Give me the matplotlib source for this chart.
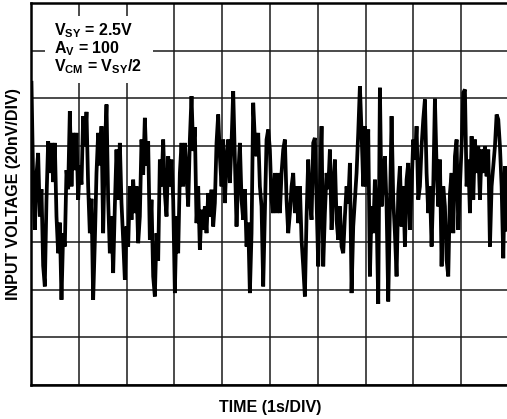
import numpy as np
import matplotlib
matplotlib.use("Agg")
import matplotlib.pyplot as plt
from matplotlib.patches import Rectangle

plt.rcParams['font.family'] = ['Liberation Sans', 'DejaVu Sans']
plt.rcParams['mathtext.fontset'] = 'custom'
plt.rcParams['mathtext.rm'] = 'Liberation Sans:bold'
plt.rcParams['mathtext.bf'] = 'Liberation Sans:bold'
plt.rcParams['mathtext.it'] = 'Liberation Sans:bold'

noise_nv = [
    46.6, 6.0, -15.0, 8.0, 17.2, -9.4, 2.0, -30.0, -38.7, -2.4,
    22.1, 8.8, 21.4, 5.0, 21.4, -9.4, -24.8, -12.0, -44.3, -16.4,
    -22.0, 10.0, 2.0, 34.7, 3.2, 25.6, 10.0, 25.6, -2.4, 12.0,
    4.0, 32.6, 20.0, 34.4, 3.2, -16.4, -2.0, -44.3, -20.0, 8.8,
    25.6, 12.0, 28.4, -16.4, 18.6, 37.5, -2.4, -24.8, -9.4, -33.1,
    -5.2, 18.6, -2.4, 21.4, -3.8, -19.2, -35.9, -13.6, -22.0, 3.2,
    -10.8, 6.0, -8.0, 3.2, -20.6, -9.4, 22.8, 8.0, 31.9, 12.0,
    22.0, -19.2, -2.4, -34.5, -42.9, -16.4, -28.0, 14.4, 3.2, 22.8,
    0.4, -9.4, 15.8, 3.2, 14.4, -2.4, -41.5, -9.4, -24.8, 8.8,
    21.4, 3.2, 21.4, 8.8, -5.2, 22.8, 41.0, 18.0, 28.0, -12.2,
    3.2, -23.4, -6.6, -15.0, -5.2, -16.4, 0.4, -9.4, 1.8, -13.6,
    -3.8, 21.4, 33.3, 15.8, 3.2, 22.8, -3.8, 14.4, 22.8, 4.6,
    21.4, 43.1, 14.4, -13.6, 7.4, 21.4, -2.4, -10.8, 2.0, -22.0,
    -12.0, -41.5, -16.4, 38.2, 22.8, 15.8, 25.6, 3.2, -5.2, -38.7,
    -8.0, 22.8, 27.0, 18.6, -2.4, -8.0, 8.8, -8.0, 8.8, -8.0,
    8.8, 18.6, 22.8, -2.4, -16.4, -8.0, 3.2, 8.8, -8.0, 3.2,
    -12.2, 3.2, -19.2, -30.3, -42.9, -9.4, 14.4, -2.4, -10.8, 21.4,
    23.5, -2.4, -30.3, 3.2, 28.4, -30.3, -8.0, 8.8, 2.0, 18.6,
    -15.0, 3.2, 14.4, -10.8, -19.2, -5.2, -22.0, -24.8, -9.4, 3.2,
    -4.0, 13.0, -41.5, -13.6, -2.4, 8.8, 25.6, 45.2, 25.6, 3.2,
    28.4, 3.2, 27.0, -34.5, -5.2, -16.4, 6.0, -8.0, -46.0, 44.5,
    -5.2, 6.0, 15.8, -5.2, -45.0, -5.2, 32.6, -2.4, -16.4, -34.5,
    0.4, 11.6, -13.6, 3.2, -22.0, 6.0, 13.0, -15.0, 3.2, 22.8,
    14.4, 28.4, -2.4, 3.2, 20.0, 31.2, 39.6, 8.8, -8.0, 3.2,
    -22.0, 3.2, 39.9, 11.6, -5.2, 14.4, -30.3, 3.2, -5.2, -27.6,
    -34.5, 0.4, 8.8, -16.4, 15.8, 22.8, -15.0, 3.2, 20.0, 42.4,
    43.8, 3.2, 14.4, -8.0, 24.2, -2.4, 22.8, 8.8, 20.0, -2.4,
    18.6, 8.8, 20.0, 7.4, 18.6, -22.0, 3.2, 11.6, 20.0, 33.3,
    31.2, 20.0, 3.2, -26.9, 11.6, -15.0,
]
record_start_s = 0.01
record_end_s = 9.95

x_ticks = list(range(0, 11))          # 1 s/div
y_ticks = list(range(-80, 81, 20))    # 20 nV/div

annotation_lines = [r'$\mathregular{V_{SY}}$ = 2.5V',
                    r'$\mathregular{A_{V}}$ = 100',
                    r'$\mathregular{V_{CM}}$ = $\mathregular{V_{SY}}$/2']

time_s = np.linspace(record_start_s, record_end_s, len(noise_nv))

fig = plt.figure(figsize=(5.07, 4.19), dpi=100)
ax = fig.add_axes([31 / 507, 34 / 419, 478 / 507, 382 / 419])

ax.set_xlim(0, 10)
ax.set_ylim(-80, 80)
ax.set_xticks(x_ticks)
ax.set_yticks(y_ticks)
ax.tick_params(length=0, labelbottom=False, labelleft=False)
ax.grid(True, color='#1a1a1a', linewidth=1.1, zorder=1)
ax.set_axisbelow(True)
for s in ax.spines.values():
    s.set_linewidth(1.8)
    s.set_color('black')

ax.plot(time_s, noise_nv, color='black', linewidth=2.7, zorder=3,
        solid_joinstyle='miter')

ax.add_patch(Rectangle((0.029, 0.79), 0.226, 0.175, transform=ax.transAxes,
                       facecolor='white', edgecolor='none', zorder=2))
for i, line in enumerate(annotation_lines):
    fig.text(54 / 507, 1 - (35 + i * 18.3) / 419, line, fontsize=11.5,
             fontweight='bold', ha='left', va='baseline', zorder=4)

fig.text(13.5 / 507, 1 - 194 / 419, 'INPUT VOLTAGE (20nV/DIV)', rotation=90,
         fontsize=11.5, fontweight='bold', ha='center', va='center')
fig.text(270 / 507, 1 - 407 / 419, 'TIME (1s/DIV)', fontsize=11.5,
         fontweight='bold', ha='center', va='center')

fig.savefig('out.png', dpi=100)
